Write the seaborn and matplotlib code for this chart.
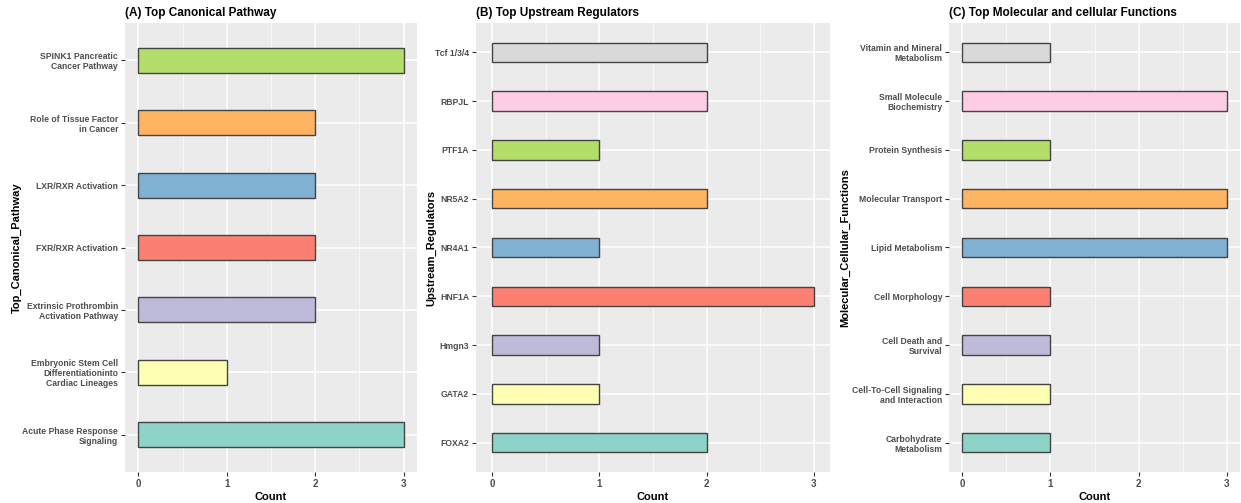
import matplotlib
matplotlib.use("Agg")
import matplotlib.pyplot as plt
from matplotlib.ticker import MultipleLocator
import seaborn as sns
import pandas as pd

# Categories listed bottom-to-top, as in the plotted order
pathways = [
    "Acute Phase Response\nSignaling",
    "Embryonic Stem Cell\nDifferentiationinto\nCardiac Lineages",
    "Extrinsic Prothrombin\nActivation Pathway",
    "FXR/RXR Activation",
    "LXR/RXR Activation",
    "Role of Tissue Factor\nin Cancer",
    "SPINK1 Pancreatic\nCancer Pathway",
]
pathway_counts = [3, 1, 2, 2, 2, 2, 3]

regulators = ["FOXA2", "GATA2", "Hmgn3", "HNF1A", "NR4A1", "NR5A2", "PTF1A", "RBPJL", "Tcf 1/3/4"]
regulator_counts = [2, 1, 1, 3, 1, 2, 1, 2, 2]

functions = [
    "Carbohydrate\nMetabolism",
    "Cell-To-Cell Signaling\nand Interaction",
    "Cell Death and\nSurvival",
    "Cell Morphology",
    "Lipid Metabolism",
    "Molecular Transport",
    "Protein Synthesis",
    "Small Molecule\nBiochemistry",
    "Vitamin and Mineral\nMetabolism",
]
function_counts = [1, 1, 1, 1, 3, 3, 1, 3, 1]

titles = ["(A) Top Canonical Pathway", "(B) Top Upstream Regulators",
          "(C) Top Molecular and cellular Functions"]
ylabels = ["Top_Canonical_Pathway", "Upstream_Regulators", "Molecular_Cellular_Functions"]
xticks = [0, 1, 2, 3]

set3 = sns.color_palette("Set3", 9)

plt.rcParams["font.family"] = ["Liberation Sans", "DejaVu Sans"]

fig = plt.figure(figsize=(12.41, 5.03), dpi=100)
W, H = 1241, 503
panel_px = [(125, 417), (476, 830), (949, 1240)]
ylabel_px = [22, 436, 850]
top_px, bottom_px = 23, 472

panels = [
    (pathways, pathway_counts),
    (regulators, regulator_counts),
    (functions, function_counts),
]

for (cats, vals), (l, r), title, ylab, lx in zip(panels, panel_px, titles, ylabels, ylabel_px):
    ax = fig.add_axes([l / W, 1 - bottom_px / H, (r - l) / W, (bottom_px - top_px) / H])
    df = pd.DataFrame({"Category": cats, "Count": vals})
    pal = {c: set3[i] for i, c in enumerate(cats)}
    order = cats[::-1]
    sns.barplot(data=df, x="Count", y="Category", hue="Category", order=order,
                hue_order=cats, palette=pal, saturation=1, width=0.4,
                edgecolor="#444444", linewidth=1.0, legend=False, ax=ax)
    n = len(cats)
    ax.set_ylim(n - 1 + 0.6, -0.6)
    ax.set_xlim(-0.15, 3.15)
    ax.set_xticks(xticks)
    ax.xaxis.set_minor_locator(MultipleLocator(0.5))
    ax.set_facecolor("#EBEBEB")
    ax.set_axisbelow(True)
    ax.grid(True, which="major", color="white", linewidth=1.1)
    ax.grid(True, which="minor", axis="x", color="white", linewidth=0.5)
    for s in ax.spines.values():
        s.set_visible(False)
    ax.tick_params(axis="both", which="major", length=3, width=0.8, color="#333333",
                   labelcolor="#4D4D4D", labelsize=6.2, pad=2)
    ax.tick_params(axis="x", which="minor", length=0)
    for t in ax.get_yticklabels():
        t.set_fontweight("bold")
        t.set_linespacing(1.15)
    for t in ax.get_xticklabels():
        t.set_fontweight("bold")
        t.set_fontsize(7)
    ax.set_xlabel("Count", fontsize=8, fontweight="bold", color="black", labelpad=2)
    ax.set_ylabel(ylab, fontsize=8, fontweight="bold", color="black")
    ax.yaxis.set_label_coords((lx - l) / (r - l), 0.5)
    ax.set_title(title, loc="left", fontsize=8.5, fontweight="bold", color="black", pad=5)

fig.savefig("out.png", dpi=100, facecolor="white")
